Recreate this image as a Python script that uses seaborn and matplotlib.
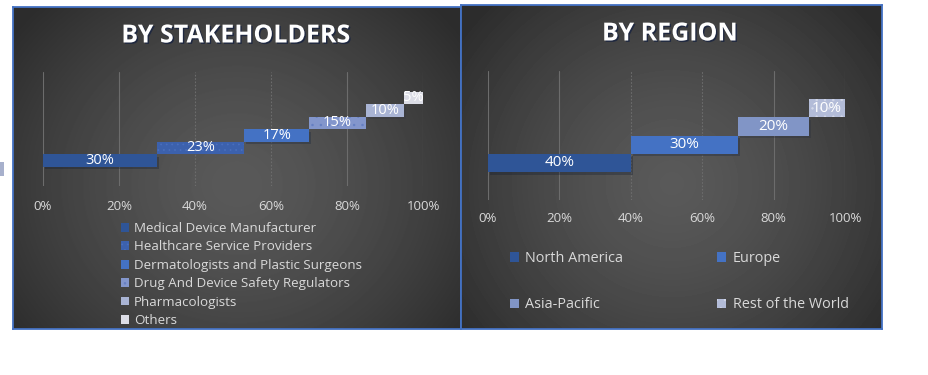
import numpy as np
import pandas as pd
import matplotlib
matplotlib.use("Agg")
import matplotlib.pyplot as plt
import matplotlib.patheffects as pe
from matplotlib.patches import Patch, Rectangle
import seaborn as sns

# ---------------- data ----------------
stake_labels = ["Medical Device Manufacturer", "Healthcare Service Providers",
                "Dermatologists and Plastic Surgeons", "Drug And Device Safety Regulators",
                "Pharmacologists", "Others"]
stake_values = [30, 23, 17, 15, 10, 5]
region_labels = ["North America", "Europe", "Asia-Pacific", "Rest of the World"]
region_values = [40, 30, 20, 10]
tick_values = [0, 20, 40, 60, 80, 100]
tick_labels = ["0%", "20%", "40%", "60%", "80%", "100%"]

# ---------------- style ----------------
stake_colors = ["#2f5597", "#3c61ad", "#4472c4", "#8396cc", "#a9b4d4", "#dcdde6"]
stake_hatch = [None, "...", None, "..", None, None]
stake_hatch_col = [None, "#4a6fbd", None, "#647ec2", None, None]
region_colors = ["#2f5597", "#4472c4", "#8195c6", "#b3bcd8"]
region_hatch = [None, None, None, ".."]
region_hatch_col = [None, None, None, "#d3d8e9"]

sns.set_theme(style="white")
plt.rcParams['font.family'] = ['Open Sans', 'DejaVu Sans']
plt.rcParams['hatch.linewidth'] = 0.5

W, H = 929, 375
fig = plt.figure(figsize=(W / 100, H / 100), dpi=100)
fig.patch.set_facecolor("white")


def fax(x0, y0, x1, y1, **kw):
    return fig.add_axes([x0 / W, 1 - y1 / H, (x1 - x0) / W, (y1 - y0) / H], **kw)


def panel(x0, y0, x1, y1):
    bg = fax(x0, y0, x1, y1)
    w, h = int(x1 - x0), int(y1 - y0)
    yy, xx = np.mgrid[0:h, 0:w]
    cx, cy = w / 2, h * 0.55
    r = np.sqrt(((xx - cx) / (w * 0.62)) ** 2 + ((yy - cy) / (h * 0.78)) ** 2)
    r = np.clip(r, 0, 1)
    c = 0.35 - (0.35 - 0.175) * r ** 1.4
    bg.imshow(c, cmap="gray", vmin=0, vmax=1, aspect="auto",
              extent=[0, 1, 0, 1], interpolation="bilinear")
    bg.set_xticks([])
    bg.set_yticks([])
    for s in bg.spines.values():
        s.set_color("#4472c4")
        s.set_linewidth(1.3)
        s.set_visible(True)
    return bg


def waterfall(ax, labels, values, colors, hatches, hatch_cols, label_size):
    n = len(values)
    starts = np.concatenate([[0], np.cumsum(values)[:-1]])
    df = pd.DataFrame({"cat": labels, "val": values})
    sns.barplot(data=df, x="val", y="cat", hue="cat", palette=colors, order=labels,
                hue_order=labels, orient="h", width=1.0, saturation=1,
                legend=False, ax=ax)
    for p, s, hatch, hc in zip(ax.patches, starts, hatches, hatch_cols):
        p.set_x(s)
        p.set_linewidth(0)
        if hatch:
            p.set_edgecolor(hc)
            p.set_hatch(hatch)
        else:
            p.set_path_effects([pe.SimplePatchShadow(offset=(1.5, -2.0), alpha=0.3),
                                pe.Normal()])
    for cont, v in zip(ax.containers, values):
        ax.bar_label(cont, labels=[f"{v}%"], label_type="center",
                     color="white", fontsize=label_size)
    m = 1.56
    ax.set_ylim(-0.5 - m, n - 0.5 + m)
    ax.set_xlim(0, 100)
    ax.set_xticks(tick_values, tick_labels)
    ax.set_yticks([])
    ax.set_xlabel("")
    ax.set_ylabel("")
    ax.set_facecolor("none")
    for s in ax.spines.values():
        s.set_visible(False)
    ax.grid(axis="x", color="#6c6c6c", linewidth=0.8)
    ax.set_axisbelow(True)
    gl = ax.get_xgridlines()
    for i in (2, 3):
        gl[i].set_linestyle((0, (1.5, 1.5)))


title_fx = [pe.withSimplePatchShadow(offset=(1, -1), shadow_rgbFace="#1c2640", alpha=0.9)]

# ---------------- left panel ----------------
panel(13, 7, 461, 329)
axL = fax(43, 72, 423, 186)
waterfall(axL, stake_labels, stake_values, stake_colors, stake_hatch,
          stake_hatch_col, 10.5)
axL.tick_params(axis="x", length=0, pad=10, labelcolor="#d9d9d9", labelsize=9.5)

fig.text(236 / W, 1 - 36 / H, "BY STAKEHOLDERS", ha="center", va="center",
         color="white", fontsize=18, fontweight="bold", path_effects=title_fx)

hL = [Patch(facecolor=c, edgecolor=(hc if hc else c), hatch=h, linewidth=0)
      for c, h, hc in zip(stake_colors, stake_hatch, stake_hatch_col)]
axL.legend(hL, stake_labels, loc="upper left", bbox_to_anchor=(121 / W, 1 - 222 / H),
           bbox_transform=fig.transFigure, frameon=False, fontsize=9.6,
           labelcolor="#d9d9d9", handlelength=0.62, handleheight=0.62,
           handletextpad=0.35, labelspacing=0.41, borderpad=0, borderaxespad=0)

# ---------------- right panel ----------------
panel(461, 5, 882, 329)
axR = fax(488, 71, 845, 200)
waterfall(axR, region_labels, region_values, region_colors, region_hatch,
          region_hatch_col, 11)
axR.tick_params(axis="x", length=0, pad=9, labelcolor="#d9d9d9", labelsize=9.5)

fig.text(670 / W, 1 - 34 / H, "BY REGION", ha="center", va="center",
         color="white", fontsize=18, fontweight="bold", path_effects=title_fx)

hR = [Patch(facecolor=c, edgecolor=(hc if hc else c), hatch=h, linewidth=0)
      for c, h, hc in zip(region_colors, region_hatch, region_hatch_col)]
# matplotlib fills legend columns first; reorder so rows read NA, Europe / AP, RoW
order = [0, 2, 1, 3]
axR.legend([hR[i] for i in order], [region_labels[i] for i in order],
           loc="upper left", bbox_to_anchor=(510 / W, 1 - 251 / H),
           bbox_transform=fig.transFigure, frameon=False, fontsize=10.4, ncol=2,
           labelcolor="#d9d9d9", handlelength=0.62, handleheight=0.62,
           handletextpad=0.45, labelspacing=2.17, columnspacing=6.5,
           borderpad=0, borderaxespad=0)

# small stray mark at the left edge of the reference image
fig.patches.append(Rectangle((0, 1 - 176 / H), 4 / W, 14 / H, transform=fig.transFigure,
                             facecolor="#a7b0cc", edgecolor="none"))

fig.savefig("out.png", dpi=100, facecolor="white")
